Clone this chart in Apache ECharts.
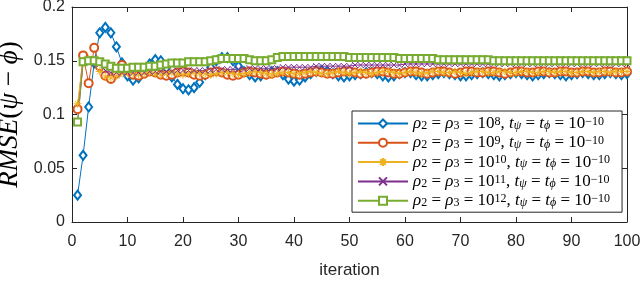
<!DOCTYPE html>
<html><head><meta charset="utf-8">
<script src="https://cdn.jsdelivr.net/npm/echarts@6/dist/echarts.min.js"></script>
<style>html,body{margin:0;padding:0;background:#fff}#c{width:640px;height:307px}</style>
</head><body><div id="c"></div>
<script>
const iterations = Array.from({length:100},(_,i)=>i+1);
const xTicks = [0,10,20,30,40,50,60,70,80,90,100];
const yTicks = [0,0.05,0.1,0.15,0.2];
const names = ['rho8','rho9','rho10','rho11','rho12'];
const exps = ['8','9','10','11','12'];

const blue = [0.025,0.062,0.107,0.148,0.176,0.181,0.176,0.163,0.148,0.136,
0.132,0.134,0.140,0.147,0.151,0.150,0.143,0.135,0.128,0.124,
0.123,0.125,0.130,0.137,0.144,0.150,0.153,0.153,0.150,0.145,
0.140,0.137,0.135,0.136,0.138,0.140,0.140,0.137,0.133,0.131,
0.132,0.135,0.138,0.140,0.141,0.140,0.138,0.136,0.135,0.136,
0.137,0.138,0.139,0.139,0.138,0.136,0.135,0.136,0.138,0.139,
0.139,0.137,0.136,0.136,0.137,0.138,0.139,0.138,0.137,0.136,
0.136,0.137,0.138,0.139,0.138,0.137,0.136,0.137,0.138,0.139,
0.138,0.137,0.136,0.137,0.138,0.139,0.138,0.137,0.136,0.137,
0.138,0.139,0.138,0.137,0.137,0.138,0.139,0.138,0.137,0.138];

const orange = [0.105,0.155,0.129,0.162,0.145,0.136,0.133,0.138,0.146,0.141,
0.137,0.136,0.138,0.140,0.139,0.137,0.136,0.137,0.139,0.140,
0.139,0.137,0.136,0.137,0.139,0.140,0.139,0.137,0.136,0.137,
0.139,0.140,0.139,0.138,0.137,0.138,0.139,0.140,0.139,0.138,
0.137,0.138,0.139,0.140,0.139,0.138,0.138,0.139,0.140,0.140,
0.139,0.138,0.138,0.139,0.140,0.140,0.139,0.138,0.138,0.139,
0.140,0.140,0.139,0.138,0.139,0.140,0.140,0.139,0.138,0.139,
0.140,0.140,0.139,0.139,0.140,0.140,0.139,0.138,0.139,0.140,
0.140,0.139,0.139,0.140,0.140,0.139,0.139,0.140,0.140,0.139,
0.139,0.140,0.140,0.139,0.139,0.140,0.140,0.139,0.139,0.140];

const yellow = [0.110,0.150,0.152,0.150,0.140,0.135,0.134,0.136,0.138,0.139,
0.138,0.137,0.138,0.139,0.138,0.137,0.138,0.139,0.138,0.137,
0.138,0.139,0.138,0.138,0.137,0.138,0.139,0.139,0.138,0.137,
0.138,0.139,0.140,0.139,0.138,0.137,0.138,0.139,0.139,0.138,
0.138,0.139,0.140,0.139,0.138,0.138,0.139,0.140,0.139,0.138,
0.139,0.140,0.139,0.138,0.139,0.140,0.140,0.139,0.138,0.139,
0.140,0.139,0.138,0.139,0.140,0.140,0.139,0.139,0.140,0.139,
0.138,0.139,0.140,0.140,0.139,0.139,0.140,0.140,0.139,0.139,
0.140,0.140,0.139,0.139,0.140,0.140,0.139,0.140,0.140,0.139,
0.139,0.140,0.140,0.139,0.140,0.140,0.139,0.140,0.140,0.140];

const purple = [0.093,0.148,0.149,0.149,0.147,0.141,0.139,0.139,0.139,0.139,
0.139,0.139,0.139,0.140,0.140,0.140,0.140,0.140,0.141,0.141,
0.141,0.141,0.141,0.141,0.141,0.142,0.142,0.142,0.142,0.142,
0.142,0.143,0.143,0.143,0.143,0.143,0.143,0.144,0.144,0.144,
0.144,0.144,0.144,0.145,0.145,0.145,0.145,0.145,0.145,0.145,
0.146,0.146,0.146,0.146,0.146,0.146,0.146,0.146,0.146,0.147,
0.147,0.147,0.147,0.147,0.147,0.147,0.147,0.147,0.147,0.147,
0.147,0.147,0.147,0.147,0.147,0.147,0.147,0.147,0.147,0.147,
0.147,0.147,0.147,0.147,0.147,0.147,0.147,0.147,0.147,0.147,
0.147,0.147,0.147,0.147,0.147,0.147,0.147,0.147,0.147,0.147];

const green = [0.093,0.149,0.150,0.150,0.149,0.147,0.145,0.143,0.143,0.143,
0.144,0.144,0.144,0.145,0.145,0.146,0.147,0.148,0.148,0.148,
0.149,0.149,0.149,0.149,0.150,0.151,0.152,0.152,0.152,0.152,
0.152,0.151,0.150,0.150,0.150,0.151,0.153,0.154,0.154,0.154,
0.154,0.154,0.154,0.154,0.154,0.154,0.154,0.154,0.154,0.153,
0.153,0.153,0.153,0.153,0.153,0.153,0.153,0.153,0.152,0.152,
0.152,0.152,0.152,0.152,0.152,0.151,0.151,0.151,0.151,0.151,
0.151,0.151,0.151,0.151,0.151,0.150,0.150,0.150,0.150,0.150,
0.150,0.150,0.150,0.150,0.150,0.150,0.150,0.150,0.150,0.150,
0.150,0.150,0.150,0.150,0.150,0.150,0.150,0.150,0.150,0.150];

const colors = ['#0072BD','#D95319','#EDB120','#7E2F8E','#77AC30'];
const seriesData = [blue, orange, yellow, purple, green];
const symbols = ['emptyDiamond','emptyCircle',
 'path://M5,0L5,10M0,5L10,5M1.5,1.5L8.5,8.5M8.5,1.5L1.5,8.5',
 'path://M0,0L10,10M10,0L0,10',
 'emptyRect'];
const sizes = [[7,9],8,8,6,7];

const chart = echarts.init(document.getElementById('c'), null, {renderer:'canvas'});
const axisCol = '#262626';
const tickFont = {color:'#262626', fontSize:16, fontFamily:'Liberation Sans, Arial, sans-serif'};
const serif = 'Liberation Serif, DejaVu Serif, serif';

const rich = {
  i:{fontFamily:serif, fontStyle:'italic', fontSize:17, color:'#000', lineHeight:16, verticalAlign:'middle'},
  n:{fontFamily:serif, fontSize:17, color:'#000', lineHeight:16, verticalAlign:'middle'},
  sub:{fontFamily:serif, fontSize:12, color:'#000', lineHeight:8, verticalAlign:'bottom'},
  subi:{fontFamily:serif, fontStyle:'italic', fontSize:12, color:'#000', lineHeight:8, verticalAlign:'bottom'},
  sup:{fontFamily:serif, fontSize:12, color:'#000', lineHeight:8, verticalAlign:'top'}
};

const series = names.map((nm,k)=>({
  name: nm, type:'line', data: iterations.map((x,i)=>[x, seriesData[k][i]]),
  symbol: symbols[k], symbolSize: sizes[k], showAllSymbol:true,
  lineStyle:{color:colors[k], width:1},
  itemStyle: (k===2||k===3) ? {color:'none', borderColor:colors[k], borderWidth:1} : {color:colors[k], borderColor:colors[k], borderWidth:1},
  emphasis:{disabled:true}, animation:false, z: 2
}));

chart.setOption({
  animation:false,
  grid:{left:72, right:13, top:7, bottom:85, show:false, outerBoundsMode:'none', containLabel:false},
  legend:{
    orient:'vertical', left:352, top:111, padding:[4,12,3,5],
    backgroundColor:'#fff', borderColor:axisCol, borderWidth:1,
    itemWidth:50, itemHeight:10, itemGap:2.3,
    data: names,
    formatter: function(name){
      const e = exps[names.indexOf(name)];
      return '{i|ρ}{sub|2}{n| = }{i|ρ}{sub|3}{n| = 10}{sup|'+e+'}{n|, }{i|t}{subi|ψ}{n| = }{i|t}{subi|ϕ}{n| = 10}{sup|−10}';
    },
    textStyle:{rich: rich}
  },
  xAxis:[{
    type:'value', min:0, max:100, interval:10,
    name:'iteration', nameLocation:'middle', nameGap:40,
    nameTextStyle:{color:'#262626', fontSize:17, fontFamily:'Liberation Sans, Arial, sans-serif'},
    axisLine:{show:true, onZero:false, lineStyle:{color:axisCol, width:1}},
    axisTick:{show:true, inside:true, length:5, lineStyle:{color:axisCol}},
    axisLabel:Object.assign({margin:12, formatter:v=>xTicks.includes(v)?String(v):''}, tickFont),
    splitLine:{show:false}
  },{
    type:'value', min:0, max:100, interval:10, position:'top',
    axisLine:{show:true, onZero:false, lineStyle:{color:axisCol, width:1}},
    axisTick:{show:true, inside:true, length:5, lineStyle:{color:axisCol}},
    axisLabel:{show:false}, splitLine:{show:false}
  }],
  yAxis:[{
    type:'value', min:0, max:0.2, interval:0.05,
    name:'{i|RMSE}{n|(}{i|ψ}{n| − }{i|ϕ}{n|)}', nameLocation:'middle', nameGap:46, nameRotate:90,
    nameTextStyle:{rich:{
      i:{fontFamily:serif, fontStyle:'italic', fontSize:27, color:'#000'},
      n:{fontFamily:serif, fontSize:27, color:'#000'}
    }},
    axisLine:{show:true, onZero:false, lineStyle:{color:axisCol, width:1}},
    axisTick:{show:true, inside:true, length:5, lineStyle:{color:axisCol}},
    axisLabel:Object.assign({margin:7, formatter:v=>{const t=yTicks.find(a=>Math.abs(a-v)<1e-9);return t===undefined?'':String(t);}}, tickFont),
    splitLine:{show:false}
  },{
    type:'value', min:0, max:0.2, interval:0.05, position:'right',
    axisLine:{show:true, onZero:false, lineStyle:{color:axisCol, width:1}},
    axisTick:{show:true, inside:true, length:5, lineStyle:{color:axisCol}},
    axisLabel:{show:false}, splitLine:{show:false}
  }],
  series: series
});
</script></body></html>
